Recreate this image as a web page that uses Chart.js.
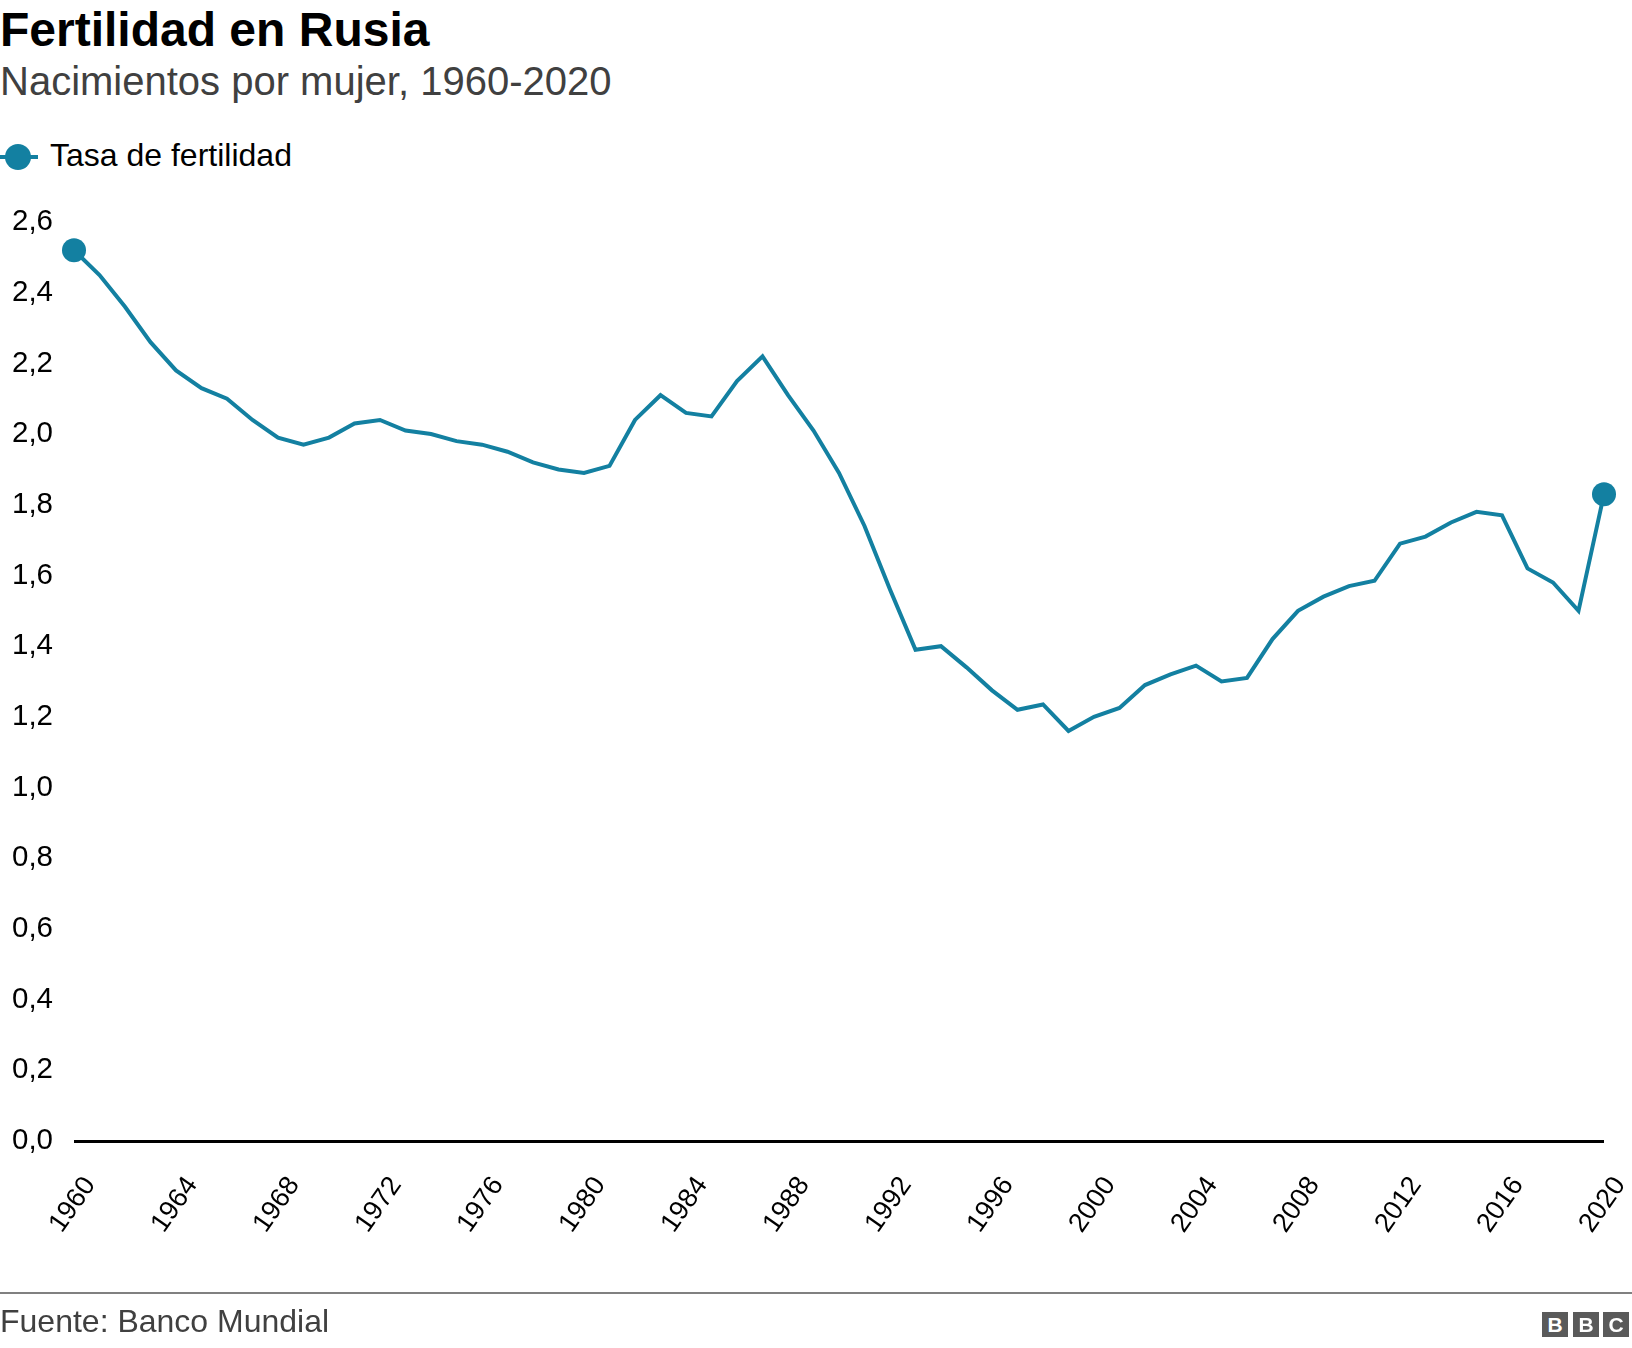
<!DOCTYPE html>
<html>
<head>
<meta charset="utf-8">
<script src="https://cdn.jsdelivr.net/npm/chart.js@4.4.1/dist/chart.umd.min.js"></script>
<style>
  html, body { margin: 0; padding: 0; background: #fff; }
  body { width: 1632px; height: 1348px; position: relative; overflow: hidden; font-family: "Liberation Sans", Arial, sans-serif; }
  #c { position: absolute; left: 0; top: 0; }
  .txt { position: absolute; white-space: nowrap; line-height: 1; }
  #title { left: 0; top: 6px; font-size: 48px; font-weight: bold; color: #000; }
  #subtitle { left: 0; top: 61px; font-size: 40px; color: #404040; }
  #legend { position: absolute; left: 0; top: 140px; height: 34px; width: 340px; }
  #legend .ln { position: absolute; left: 0; top: 15px; width: 38px; height: 4px; background: #1380A1; }
  #legend .dot { position: absolute; left: 5px; top: 4px; width: 26px; height: 26px; border-radius: 50%; background: #1380A1; }
  #legend .lab { position: absolute; left: 50px; top: -1px; font-size: 32px; color: #000; line-height: 1; white-space: nowrap; }
  #rule { position: absolute; left: 0; top: 1292px; width: 1632px; height: 2px; background: #808080; }
  #source { left: 0; top: 1305px; font-size: 32px; color: #404040; }
  .bbc { position: absolute; top: 1312px; width: 26px; height: 25px; background: #5a5a5a; color: #fff; font-weight: bold; font-size: 21px; text-align: center; line-height: 25px; font-family: "Liberation Sans", Arial, sans-serif; }
</style>
</head>
<body>
<div id="title" class="txt">Fertilidad en Rusia</div>
<div id="subtitle" class="txt">Nacimientos por mujer, 1960-2020</div>
<div id="legend"><div class="ln"></div><div class="dot"></div><div class="lab">Tasa de fertilidad</div></div>
<canvas id="c" width="1632" height="1348"></canvas>
<div id="rule"></div>
<div id="source" class="txt">Fuente: Banco Mundial</div>
<div class="bbc" style="left:1542px">B</div>
<div class="bbc" style="left:1573px">B</div>
<div class="bbc" style="left:1603px">C</div>
<script>
const years = [1960,1961,1962,1963,1964,1965,1966,1967,1968,1969,
  1970,1971,1972,1973,1974,1975,1976,1977,1978,1979,
  1980,1981,1982,1983,1984,1985,1986,1987,1988,1989,
  1990,1991,1992,1993,1994,1995,1996,1997,1998,1999,
  2000,2001,2002,2003,2004,2005,2006,2007,2008,2009,
  2010,2011,2012,2013,2014,2015,2016,2017,2018,2019,2020];
const fertility = [2.52,2.45,2.36,2.26,2.18,2.13,2.10,2.04,1.99,1.97,
  1.99,2.03,2.04,2.01,2.00,1.98,1.97,1.95,1.92,1.90,
  1.89,1.91,2.04,2.11,2.06,2.05,2.15,2.22,2.11,2.01,
  1.89,1.74,1.56,1.39,1.40,1.34,1.275,1.22,1.235,1.16,
  1.20,1.225,1.29,1.32,1.345,1.30,1.31,1.42,1.50,1.54,
  1.57,1.585,1.69,1.71,1.75,1.78,1.77,1.62,1.58,1.50,1.83];
const xTickYears = [1960,1964,1968,1972,1976,1980,1984,1988,1992,1996,2000,2004,2008,2012,2016,2020];
const yTickValues = [0,0.2,0.4,0.6,0.8,1.0,1.2,1.4,1.6,1.8,2.0,2.2,2.4,2.6];
const seriesLabel = 'Tasa de fertilidad';

const FONT = '"Liberation Sans", Arial, sans-serif';
const lineColor = '#1380A1';
const lastIdx = fertility.length - 1;

new Chart(document.getElementById('c'), {
  type: 'line',
  data: {
    datasets: [{
      label: seriesLabel,
      data: years.map((y, i) => ({ x: y, y: fertility[i] })),
      borderColor: lineColor,
      backgroundColor: lineColor,
      borderWidth: 4,
      pointRadius: ctx => (ctx.dataIndex === 0 || ctx.dataIndex === lastIdx) ? 12 : 0,
      pointBackgroundColor: lineColor,
      pointBorderWidth: 0,
      pointHoverRadius: 0,
      tension: 0,
      clip: false,
      borderJoinStyle: 'miter'
    }]
  },
  options: {
    responsive: false,
    animation: false,
    devicePixelRatio: 1,
    layout: { padding: { left: 12, top: 222, right: 28, bottom: 87 } },
    plugins: { legend: { display: false }, tooltip: { enabled: false }, title: { display: false } },
    scales: {
      x: {
        type: 'linear',
        min: 1960,
        max: 2020,
        afterBuildTicks: s => { s.ticks = xTickYears.map(v => ({ value: v })); },
        afterFit: s => { s.height = 120; s.paddingLeft = 0; s.paddingRight = 0; },
        grid: { display: false, drawTicks: false },
        border: { display: false },
        ticks: {
          autoSkip: false,
          maxRotation: 55,
          minRotation: 55,
          padding: 30,
          labelOffset: 16,
          color: '#000',
          font: { family: FONT, size: 27 },
          callback: v => String(v)
        }
      },
      y: {
        type: 'linear',
        min: 0,
        max: 2.6,
        afterBuildTicks: s => { s.ticks = yTickValues.map(v => ({ value: v })); },
        afterFit: s => { s.width = 62; s.paddingTop = 0; s.paddingBottom = 0; },
        grid: {
          drawTicks: false,
          color: ctx => (ctx.tick && ctx.tick.value === 0) ? '#000' : 'rgba(0,0,0,0)',
          lineWidth: ctx => (ctx.tick && ctx.tick.value === 0) ? 3 : 0
        },
        border: { display: false },
        ticks: {
          crossAlign: 'far',
          padding: 0,
          color: '#000',
          font: { family: FONT, size: 29.5 },
          callback: v => Number(v).toFixed(1).replace('.', ',')
        }
      }
    }
  }
});
</script>
</body>
</html>
